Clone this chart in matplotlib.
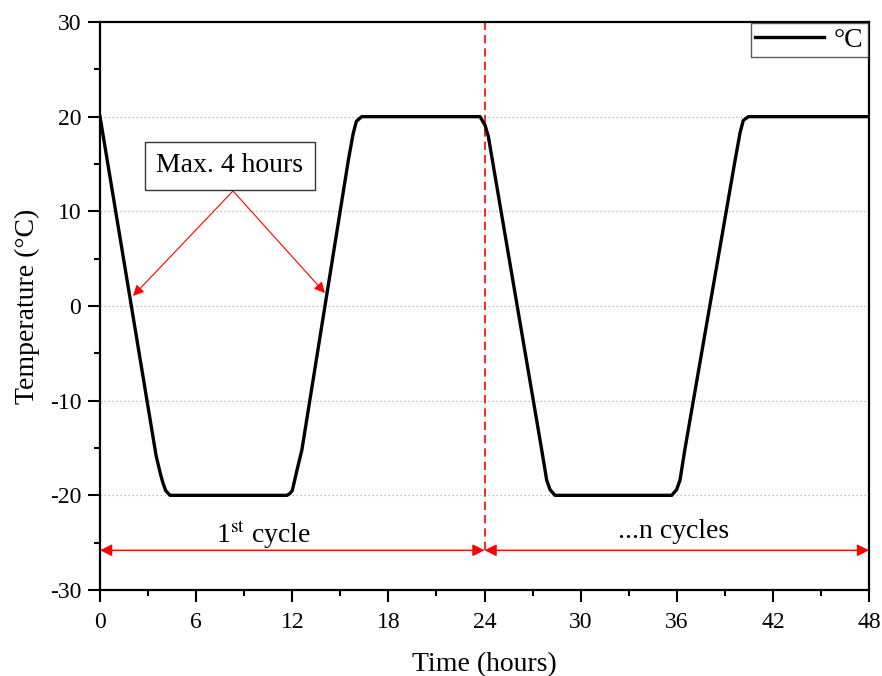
import numpy as np
from matplotlib import pyplot as plt
from matplotlib.ticker import MultipleLocator

# temperature profile (hours, degC)
time = [0, 3.5, 3.78, 3.93, 4.1, 4.37, 11.67, 11.85, 12.0, 12.3, 12.6, 15.5,
        15.8, 16.0, 16.33, 23.72, 24.03, 24.24, 24.49, 27.57, 27.88, 28.09,
        28.4, 35.68, 35.99, 36.2, 36.5, 39.64, 39.95, 40.15, 40.47, 48]
temp = [20, -15.8, -17.8, -18.7, -19.5, -20, -20, -19.8, -19.5, -17.3, -15.2,
        15.4, 18.2, 19.5, 20, 20, 19.1, 17.9, 15.4, -15.2, -18.4, -19.4, -20,
        -20, -19.4, -18.4, -15.2, 15.4, 18.3, 19.6, 20, 20]

grid_levels = [-20, -10, 0, 10, 20]
cycle_end = 24
span_y = -25.8
max_text_xy = (8.3, 12.15)
max_tips = [(2.06, 1.06), (14.04, 1.37)]

plt.rcParams['font.family'] = ['Liberation Serif', 'DejaVu Serif']
plt.rcParams['mathtext.fontset'] = 'stix'
plt.rcParams['axes.unicode_minus'] = False

fig = plt.figure(figsize=(8.82, 6.76), dpi=100)
ax = fig.add_axes([0.1134, 0.1272, 0.8719, 0.8403])

for g in grid_levels:
    ax.axhline(g, color='#b8b8b8', lw=0.9, ls=(0, (1.2, 2.0)), zorder=0)

ax.plot(time, temp, color='black', lw=2.4, solid_joinstyle='round', label='°C', zorder=3)

ax.set_xlim(0, 48)
ax.set_ylim(-30, 30)
ax.xaxis.set_major_locator(MultipleLocator(6))
ax.xaxis.set_minor_locator(MultipleLocator(3))
ax.yaxis.set_major_locator(MultipleLocator(10))
ax.yaxis.set_minor_locator(MultipleLocator(5))
ax.tick_params(which='major', direction='out', length=8.6, width=1.5, labelsize=17, pad=5)
ax.tick_params(axis='x', which='major', pad=7)
ax.tick_params(which='minor', direction='out', length=4.3, width=1.5)
for s in ax.spines.values():
    s.set_linewidth(1.6)

ax.set_xlabel('Time (hours)', fontsize=20, labelpad=14)
ax.set_ylabel('Temperature (°C)', fontsize=20, labelpad=7)

# cycle marker
ax.plot([cycle_end, cycle_end], [span_y, 30], color='red', lw=1.2, ls=(0, (5, 3)), zorder=2)
arrow_kw = dict(arrowstyle='<|-|>', color='red', lw=1.0, mutation_scale=18, shrinkA=0, shrinkB=0)
ax.annotate('', xy=(0, span_y), xytext=(cycle_end, span_y), arrowprops=arrow_kw)
ax.annotate('', xy=(cycle_end, span_y), xytext=(48, span_y), arrowprops=arrow_kw)
ax.text(10.2, -25.0, r'1$^{\mathrm{st}}$ cycle', fontsize=20, ha='center', va='baseline')
ax.text(35.8, -24.5, '...n cycles', fontsize=20, ha='center', va='baseline')

# max. 4 hours callout
for tip in max_tips:
    ax.annotate('', xy=tip, xytext=max_text_xy,
                arrowprops=dict(arrowstyle='-|>', color='red', lw=0.8, mutation_scale=16,
                                shrinkA=0, shrinkB=0))
ax.text(8.1, 14.8, 'Max. 4 hours', fontsize=20, ha='center', va='center',
        bbox=dict(boxstyle='square,pad=0.42', fc='white', ec='#333333', lw=1.0))

leg = ax.legend(loc='upper right', fontsize=20, frameon=True, fancybox=False,
                handlelength=2.5, handletextpad=0.35, borderpad=0.15,
                borderaxespad=0.05)
leg.get_frame().set_edgecolor('#333333')
leg.get_frame().set_linewidth(1.0)

fig.savefig('out.png', dpi=100)
